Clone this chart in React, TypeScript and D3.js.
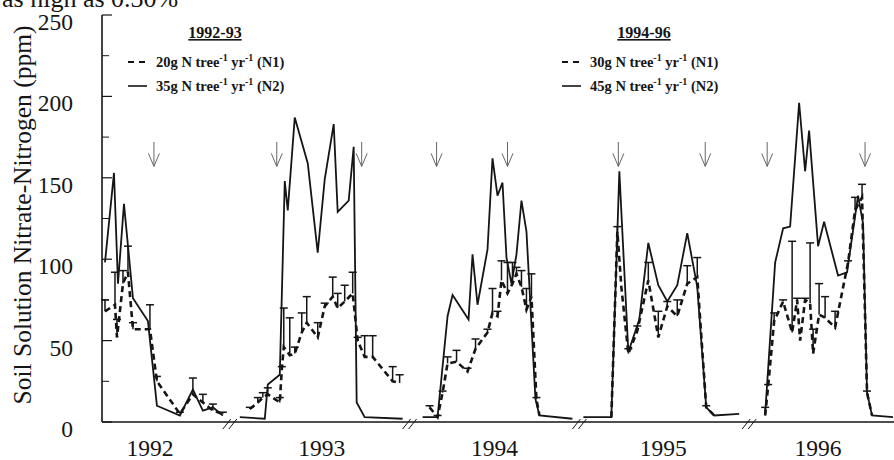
import React from "react";
import * as d3 from "d3";

// broken time axis: one segment per year, x unit = week of year
const years = [1992, 1993, 1994, 1995, 1996];
const weekStart = [22, 12, 14, 14, 14];
const weekEnd = [48, 48, 48, 48, 42.6];
const yearLabelWeek = [31.6, 30, 30.6, 30.4, 27.4];

const yTicks = [0, 50, 100, 150, 200, 250];
const yMinorTicks = [25, 75, 125, 175, 225];

// N2 (solid): [week, ppm]
const n2_1992 = [[22.6, 98], [24.4, 153], [25.2, 85], [26.4, 134], [28.2, 76], [31.2, 62], [33.0, 10], [37.6, 4], [40.2, 20], [42.2, 7], [44.2, 9], [46.2, 4]];
const n2_1993 = [[13.6, 3], [18.6, 2], [19.2, 23], [21.6, 29], [22.6, 148], [23.2, 130], [24.6, 187], [27.2, 159], [29.2, 104], [30.6, 149], [32.4, 183], [33.2, 129], [35.4, 136], [36.4, 169], [37.0, 12], [38.6, 3], [46.2, 2]];
const n2_1994 = [[16.2, 3], [19.2, 3], [21.2, 65], [22.2, 78], [25.4, 63], [26.2, 103], [27.2, 72], [29.2, 106], [30.2, 162], [31.2, 139], [32.2, 147], [33.0, 101], [34.0, 85], [35.0, 103], [36.0, 136], [37.0, 117], [38.8, 14], [39.6, 4], [46.2, 2]];
const n2_1995 = [[14.4, 3], [20.0, 3], [21.6, 154], [23.4, 43], [25.6, 63], [27.4, 110], [29.4, 84], [31.2, 74], [33.2, 84], [35.2, 116], [37.2, 83], [39.0, 9], [40.6, 4], [45.6, 5]];
const n2_1996 = [[16.8, 5], [18.8, 98], [20.4, 119], [21.8, 120], [23.6, 196], [24.8, 154], [25.6, 179], [27.4, 108], [28.6, 123], [31.4, 90], [33.2, 92], [35.4, 139], [36.4, 122], [37.2, 18], [38.2, 4], [42.4, 3]];

// N1 (dashed): [week, ppm, upper error]
const n1_1992 = [[22.6, 68, 7], [24.6, 72, 20], [25.0, 52, 11], [26.2, 85, 8], [27.2, 92, 16], [28.2, 57, 4], [31.6, 57, 15], [33.0, 25, 3], [37.6, 5, 1], [40.2, 17, 10], [42.2, 12, 5], [44.2, 7, 4], [46.2, 5, 1]];
const n1_1993 = [[15.6, 8, 1], [17.2, 12, 3], [18.2, 15, 3], [19.2, 17, 4], [21.6, 12, 3], [22.0, 32, 2], [22.4, 46, 24], [23.6, 41, 23], [24.6, 42, 4], [26.0, 55, 12], [27.0, 61, 16], [29.2, 52, 9], [30.6, 71, 2], [32.2, 77, 12], [33.2, 70, 9], [34.6, 74, 10], [36.2, 79, 13], [37.2, 50, 2], [38.6, 40, 13], [40.2, 40, 13], [44.2, 25, 9], [45.6, 24, 5]];
const n1_1994 = [[17.6, 9, 1], [19.2, 3, 1], [20.2, 18, 1], [21.2, 36, 4], [23.0, 37, 7], [25.2, 31, 2], [26.8, 45, 6], [29.2, 55, 2], [30.2, 67, 15], [31.2, 65, 3], [32.0, 87, 12], [33.2, 79, 19], [34.2, 85, 13], [35.0, 91, 4], [36.0, 83, 10], [37.0, 69, 13], [38.0, 77, 14], [39.0, 14, 1], [39.6, 4, 0]];
const n1_1995 = [[20.0, 3, 0], [21.2, 117, 3], [22.0, 83, 0], [23.4, 42, 3], [25.2, 56, 3], [27.4, 87, 11], [29.4, 52, 16], [31.2, 71, 3], [33.2, 65, 10], [35.2, 85, 11], [37.2, 89, 12], [39.0, 9, 1], [40.6, 4, 0]];
const n1_1996 = [[16.8, 4, 5], [17.4, 22, 1], [18.6, 62, 5], [20.4, 74, 1], [22.2, 55, 56], [23.2, 75, 1], [23.8, 50, 0], [24.8, 75, 1], [25.8, 73, 37], [26.4, 42, 15], [27.6, 66, 19], [28.8, 64, 13], [30.8, 58, 10], [33.4, 98, 1], [34.8, 130, 8], [36.2, 138, 8], [37.2, 18, 1], [38.2, 4, 0]];

const n2Series = [n2_1992, n2_1993, n2_1994, n2_1995, n2_1996];
const n1Series = [n1_1992, n1_1993, n1_1994, n1_1995, n1_1996];

// fertilizer application arrows (week per year)
const arrowWeeks = [[32.4], [21.0, 38.0], [19.0, 33.2], [21.4, 38.8], [17.2, 36.8]];
const arrowTop = 172;
const arrowTip = 157;

const W = 894;
const H = 460;
const left = 102;
const right = 894;

const spans = weekEnd.map((e, i) => e - weekStart[i]);
const offsets = spans.map((_, i) => d3.sum(spans.slice(0, i)));
const xBase = d3.scaleLinear().domain([0, d3.sum(spans)]).range([left, right]);
const x = (yi: number, w: number) => xBase(offsets[yi] + w - weekStart[yi]);
const y = d3.scaleLinear().domain([0, 250]).range([422, 15]);

const serif = "'Liberation Serif', 'Times New Roman', serif";
const ink = "#151515";

const Sup = ({ t }: { t: string }) => (
  <tspan dy={-6} fontSize={10}>{t}</tspan>
);

const LegendText = ({ tx, ty, dose, tag }: { tx: number; ty: number; dose: string; tag: string }) => (
  <text x={tx} y={ty} fontFamily={serif} fontWeight="bold" fontSize={14.5} fill={ink}>
    {dose} N tree<Sup t="-1" />
    <tspan dy={6}> yr</tspan>
    <Sup t="-1" />
    <tspan dy={6}> ({tag})</tspan>
  </text>
);

export default function App() {
  return (
    <svg
      width={W}
      height={H}
      viewBox={`0 0 ${W} ${H}`}
      style={{ position: "absolute", left: 0, top: 0, background: "#fff" }}
    >
      {/* cut-off line of text from the page above */}
      <text x={2} y={7} fontFamily={serif} fontSize={26} fill={ink}>as high as 0.30%</text>

      {/* y axis */}
      <line x1={left} x2={left} y1={y(250)} y2={y(0)} stroke={ink} strokeWidth={1.6} />
      {yTicks.map((t) => (
        <g key={t}>
          <line x1={left} x2={left + 10} y1={y(t)} y2={y(t)} stroke={ink} strokeWidth={1.2} />
          <text x={73} y={y(t) + 15} textAnchor="end" fontFamily={serif} fontSize={23.5} fill={ink}>{t}</text>
        </g>
      ))}
      {yMinorTicks.map((t) => (
        <line key={t} x1={left} x2={left + 7} y1={y(t)} y2={y(t)} stroke={ink} strokeWidth={1} />
      ))}
      <text
        transform={`translate(31,215) rotate(-90)`}
        textAnchor="middle"
        fontFamily={serif}
        fontSize={25.5}
        fill={ink}
      >
        Soil Solution Nitrate-Nitrogen (ppm)
      </text>

      {/* x axis with breaks */}
      <line x1={left} x2={right} y1={y(0)} y2={y(0)} stroke={ink} strokeWidth={1.6} />
      {years.slice(1).map((_, k) => {
        const bx = x(k + 1, weekStart[k + 1]);
        return (
          <g key={k} stroke={ink} strokeWidth={1}>
            <line x1={bx - 9} y1={y(0) + 7} x2={bx - 1} y2={y(0) - 3} />
            <line x1={bx - 3} y1={y(0) + 7} x2={bx + 5} y2={y(0) - 3} />
          </g>
        );
      })}
      {years.map((yr, i) => (
        <text key={yr} x={x(i, yearLabelWeek[i])} y={456} textAnchor="middle" fontFamily={serif} fontSize={23.5} fill={ink}>
          {yr}
        </text>
      ))}

      {/* arrows */}
      {arrowWeeks.map((ws, i) =>
        ws.map((w) => {
          const ax = x(i, w);
          return (
            <g key={`${i}-${w}`} stroke="#666" strokeWidth={1} fill="none">
              <line x1={ax} x2={ax} y1={y(arrowTop)} y2={y(arrowTip)} />
              <polyline points={`${ax - 5.5},${y(arrowTip) - 13} ${ax},${y(arrowTip)} ${ax + 5.5},${y(arrowTip) - 13}`} />
            </g>
          );
        })
      )}

      {/* N2 solid lines */}
      {n2Series.map((s, i) => {
        const line = d3.line<number[]>().x((d) => x(i, d[0])).y((d) => y(d[1]));
        return <path key={`n2-${i}`} d={line(s) || ""} fill="none" stroke={ink} strokeWidth={1.8} strokeLinejoin="miter" />;
      })}

      {/* N1 dashed lines with error bars */}
      {n1Series.map((s, i) => {
        const line = d3.line<number[]>().x((d) => x(i, d[0])).y((d) => y(d[1]));
        return (
          <g key={`n1-${i}`}>
            <path d={line(s) || ""} fill="none" stroke={ink} strokeWidth={2.6} strokeDasharray="6,4" />
            {s.filter((d) => d[2] > 0).map((d, j) => (
              <g key={j} stroke={ink} strokeWidth={1.5}>
                <line x1={x(i, d[0])} x2={x(i, d[0])} y1={y(d[1])} y2={y(d[1] + d[2])} />
                <line x1={x(i, d[0]) - 4} x2={x(i, d[0]) + 4} y1={y(d[1] + d[2])} y2={y(d[1] + d[2])} />
              </g>
            ))}
          </g>
        );
      })}

      {/* legends */}
      <text x={215} y={38} textAnchor="middle" fontFamily={serif} fontWeight="bold" fontSize={16} fill={ink} textDecoration="underline">1992-93</text>
      <line x1={128} x2={147} y1={62} y2={62} stroke={ink} strokeWidth={2.2} strokeDasharray="6,5" />
      <LegendText tx={156} ty={67} dose="20g" tag="N1" />
      <line x1={128} x2={147} y1={86} y2={86} stroke={ink} strokeWidth={1.6} />
      <LegendText tx={156} ty={91} dose="35g" tag="N2" />

      <text x={644} y={38} textAnchor="middle" fontFamily={serif} fontWeight="bold" fontSize={16} fill={ink} textDecoration="underline">1994-96</text>
      <line x1={562} x2={581} y1={62} y2={62} stroke={ink} strokeWidth={2.2} strokeDasharray="6,5" />
      <LegendText tx={590} ty={67} dose="30g" tag="N1" />
      <line x1={562} x2={581} y1={86} y2={86} stroke={ink} strokeWidth={1.6} />
      <LegendText tx={590} ty={91} dose="45g" tag="N2" />
    </svg>
  );
}
